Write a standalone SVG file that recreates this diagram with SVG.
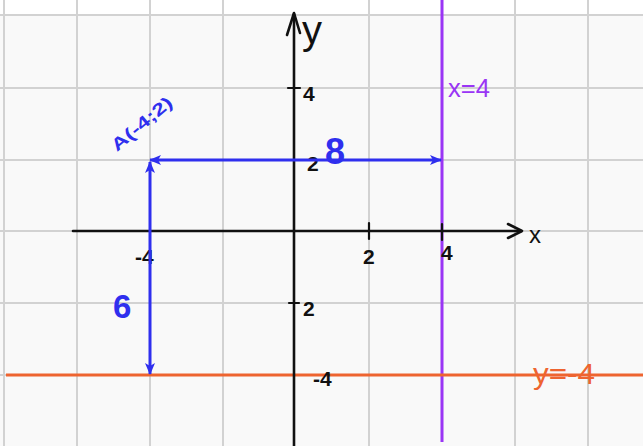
<svg xmlns="http://www.w3.org/2000/svg" width="643" height="446" viewBox="0 0 643 446">
<style>
.grid line{stroke:#d2d2d2;stroke-width:2}
.axis{stroke:#111;stroke-width:2.6;fill:none;stroke-linecap:round;stroke-linejoin:round}
.tick{stroke:#111;stroke-width:2.2;stroke-linecap:round}
.tl{font-family:"Liberation Sans",Arial,sans-serif;font-weight:bold;fill:#111;font-size:21px}
.blue{stroke:#2f2fee;stroke-width:3;fill:none}
.bt{font-family:"Liberation Sans",Arial,sans-serif;fill:#2f2fee}
.purple{stroke:#9a35f5;stroke-width:3}
.orange{stroke:#ee6430;stroke-width:3}
</style>
<defs>
<marker id="bh" viewBox="0 0 12 10" refX="11" refY="5" markerWidth="4" markerHeight="3.4" orient="auto-start-reverse" markerUnits="strokeWidth">
<path d="M0,0 L12,5 L0,10 L3,5 Z" fill="#2f2fee"/>
</marker>
</defs>
<rect width="643" height="446" fill="#f9f9f9"/>
<rect width="643" height="15" fill="#ffffff"/>
<g id="grid" class="grid">
<line x1="4" y1="0" x2="4" y2="446"/>
<line x1="77" y1="0" x2="77" y2="446"/>
<line x1="150" y1="0" x2="150" y2="446"/>
<line x1="223" y1="0" x2="223" y2="446"/>
<line x1="369" y1="0" x2="369" y2="446"/>
<line x1="515" y1="0" x2="515" y2="446"/>
<line x1="588" y1="0" x2="588" y2="446"/>
<line x1="0" y1="15" x2="643" y2="15"/>
<line x1="0" y1="88" x2="643" y2="88"/>
<line x1="0" y1="160" x2="643" y2="160"/>
<line x1="0" y1="231" x2="643" y2="231"/>
<line x1="0" y1="303" x2="643" y2="303"/>
<line x1="0" y1="375" x2="643" y2="375"/>
</g>
<g id="line-x4">
<line class="purple" x1="442" y1="0" x2="442" y2="442"/>
<text x="448" y="97" font-family="Liberation Sans,Arial,sans-serif" font-size="26" fill="#9a35f5" textLength="42" lengthAdjust="spacingAndGlyphs">x=4</text>
</g>
<g id="line-ym4">
<line class="orange" x1="6" y1="375" x2="643" y2="375"/>
<text x="533" y="384" font-family="Liberation Sans,Arial,sans-serif" font-size="30" fill="#ee6430" textLength="62" lengthAdjust="spacingAndGlyphs">y=-4</text>
</g>
<g id="axes">
<line class="axis" x1="294" y1="14" x2="294" y2="446"/>
<path class="axis" d="M287,35 L294,13 L300,33"/>
<text x="302" y="44" font-family="Liberation Sans,Arial,sans-serif" font-size="40" fill="#111">y</text>
<line class="axis" x1="73" y1="231" x2="521" y2="231"/>
<path class="axis" d="M508,224 L522,231 L508,238"/>
<text x="529" y="243" font-family="Liberation Sans,Arial,sans-serif" font-size="24" fill="#111">x</text>
<line class="tick" x1="369" y1="223" x2="369" y2="239"/>
<line class="tick" x1="442" y1="224" x2="442" y2="240"/>
<line class="tick" x1="288" y1="88" x2="300" y2="88"/>
<line class="tick" x1="289" y1="303" x2="299" y2="303"/>
<text class="tl" x="135" y="264">-4</text>
<text class="tl" x="363" y="264">2</text>
<text class="tl" x="441" y="260">4</text>
<text class="tl" x="303" y="101">4</text>
<text class="tl" x="307" y="171">2</text>
<text class="tl" x="303" y="316">2</text>
<text class="tl" x="313" y="386">-4</text>
</g>
<g id="point-A">
<text class="bt" font-size="17" font-weight="bold" transform="translate(117,152) rotate(-40)" textLength="74" lengthAdjust="spacingAndGlyphs">A(-4;2)</text>
</g>
<g id="connectors">
<line class="blue" x1="150" y1="160" x2="441" y2="160" marker-start="url(#bh)" marker-end="url(#bh)"/>
<line class="blue" x1="150" y1="162" x2="150" y2="374" marker-start="url(#bh)" marker-end="url(#bh)"/>
</g>
<g id="labels">
<text class="bt" x="325" y="164" font-size="36" font-weight="bold">8</text>
<text class="bt" x="113" y="318" font-size="33" font-weight="bold">6</text>
</g>
</svg>
